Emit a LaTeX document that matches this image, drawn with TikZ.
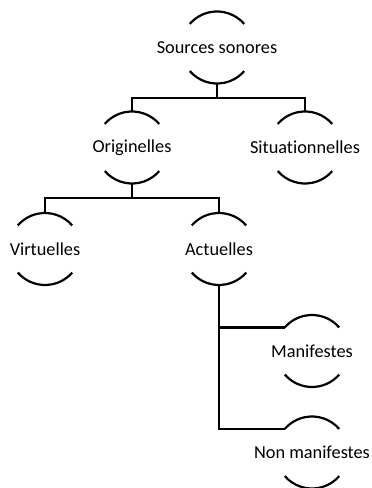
\documentclass[tikz,border=0pt]{standalone}
\usepackage{fontspec}
\setmainfont{Carlito}[Ligatures=NoCommon]
\begin{document}
\begin{tikzpicture}[x=1pt,y=1pt,
  cnode/.style={circle,minimum size=72pt,inner sep=0pt,outer sep=0pt,
    label={[font=\fontsize{18.3}{22}\selectfont,inner sep=0pt]center:#1}},
  conn/.style={line width=2.4pt},
  arcline/.style={line width=2.2pt}]
\useasboundingbox (0,0) rectangle (372,488);
\node[cnode={Sources sonores}] (S)  at (217,440.5) {};
\node[cnode={Originelles}] (O)  at (132,340.5) {};
\node[cnode={Situationnelles}] (Si) at (305,340.5) {};
\node[cnode={Virtuelles}] (V)  at (45,239) {};
\node[cnode={Actuelles}] (A)  at (219,239) {};
\node[cnode={Manifestes}] (M)  at (312,137) {};
\node[cnode={Non manifestes}] (N)  at (312,35.5) {};
\foreach \n in {S,O,Si,V,A,M,N}{
  \draw[arcline] (\n.41) arc[start angle=41,end angle=139,radius=36pt];
  \draw[arcline] (\n.221) arc[start angle=221,end angle=319,radius=36pt];
}
\draw[conn] (S.south) -- ++(0,-14.5) -| (O.north);
\draw[conn] (S.south) -- ++(0,-14.5) -| (Si.north);
\draw[conn] (O.south) -- ++(0,-14.75) -| (V.north);
\draw[conn] (O.south) -- ++(0,-14.75) -| (A.north);
\draw[conn] (A.south) |- (M.139);
\draw[conn] (A.south) |- (N.139);
\end{tikzpicture}
\end{document}
